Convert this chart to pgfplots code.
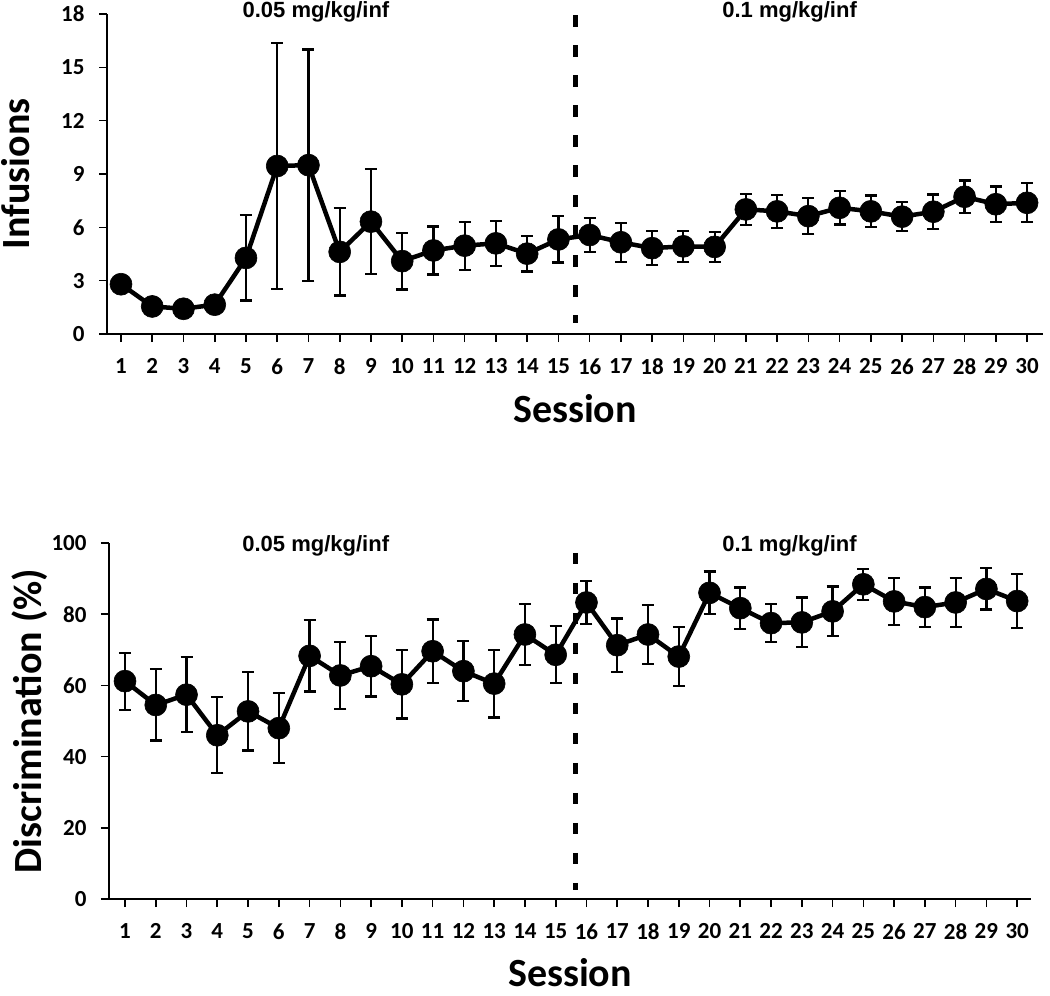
\documentclass[border=0pt]{standalone}
\usepackage{fontspec}
\setmainfont{Carlito}
\newfontfamily\arialfont{Liberation Sans}
\usepackage{pgfplots}
\pgfplotsset{compat=1.18}
\usepackage{pgfplotstable}

\pgfplotstableread{
x y e
1 2.8 0.4
2 1.55 0.25
3 1.42 0.2
4 1.65 0.25
5 4.28 2.4
6 9.45 6.9
7 9.5 6.5
8 4.62 2.45
9 6.32 2.95
10 4.1 1.6
11 4.7 1.35
12 4.97 1.35
13 5.1 1.27
14 4.52 1.0
15 5.32 1.3
16 5.57 0.97
17 5.16 1.1
18 4.83 0.97
19 4.93 0.87
20 4.9 0.85
21 7.01 0.86
22 6.9 0.94
23 6.63 1.0
24 7.1 0.94
25 6.9 0.89
26 6.6 0.82
27 6.88 0.97
28 7.72 0.92
29 7.3 1.0
30 7.38 1.1
}\infdata

\pgfplotstableread{
x y e
1 61.2 8
2 54.5 10
3 57.4 10.5
4 46 10.7
5 52.7 11
6 48 9.9
7 68.3 10
8 62.8 9.4
9 65.4 8.5
10 60.3 9.6
11 69.6 8.9
12 64 8.4
13 60.5 9.5
14 74.3 8.5
15 68.6 8
16 83.3 6
17 71.3 7.5
18 74.3 8.2
19 68.1 8.2
20 86 6
21 81.7 5.8
22 77.5 5.4
23 77.7 7
24 80.8 7
25 88.4 4.3
26 83.6 6.6
27 82 5.5
28 83.3 6.8
29 87.1 5.8
30 83.7 7.5
}\discdata

\pgfplotsset{
  common/.style={
    scale only axis,
    axis x line*=bottom,
    axis y line*=left,
    axis line style={line width=2bp, black},
    tick align=outside,
    major tick length=8bp,
    tick style={line width=1.6bp, black},
    xtick={1,...,30},
    ticklabel style={font=\fontsize{23bp}{27bp}\selectfont\bfseries},
    xticklabel style={yshift=-13bp},
    yticklabel style={xshift=-11bp},
    /pgf/number format/assume math mode=true,
    label style={font=\fontsize{40bp}{48bp}\selectfont\bfseries},
    clip=false,
  },
  dataplot/.style={
    black, line width=4.5bp, mark=*, mark size=11bp,
    mark options={fill=black, solid, line width=0.6bp},
    error bars/.cd, y dir=both, y explicit,
    error bar style={line width=2.2bp, black},
    error mark options={rotate=90, mark size=6bp, line width=2.2bp, black},
  },
}
\tikzset{doselabel/.style={font=\arialfont\bfseries\fontsize{22bp}{26bp}\selectfont, anchor=base}}

\begin{document}
\begin{tikzpicture}
\useasboundingbox (0bp,0bp) rectangle (1050bp,-996bp);

\begin{axis}[common,
  at={(107bp,-334bp)}, anchor=south west,
  width=936bp, height=320bp,
  xmin=0.552, xmax=30.51, ymin=0, ymax=18,
  ytick={0,3,...,18},
  xlabel={Session},
  xlabel style={at={(axis description cs:0.5,-0.275)}, anchor=base},
  ylabel={Infusions},
  ylabel style={at={(axis description cs:-0.0823,0.5)}, anchor=base, rotate=0},
]
\addplot[line width=5bp, black, dash pattern=on 11.5bp off 18.5bp] coordinates {(15.56,17.94) (15.56,0.62)};
\addplot[dataplot] table[x=x, y=y, y error=e] {\infdata};
\node[doselabel] at (axis cs:7.24,17.83) {0.05 mg/kg/inf};
\node[doselabel] at (axis cs:22.4,17.83) {0.1 mg/kg/inf};
\end{axis}

\begin{axis}[common,
  at={(109bp,-899bp)}, anchor=south west,
  width=922bp, height=356bp,
  xmin=0.48, xmax=30.45, ymin=0, ymax=100,
  ytick={0,20,...,100},
  xlabel={Session},
  xlabel style={at={(axis description cs:0.5,-0.247)}, anchor=base},
  ylabel={Discrimination (\%)},
  ylabel style={at={(axis description cs:-0.0727,0.5)}, anchor=base, rotate=0},
]
\addplot[line width=5bp, black, dash pattern=on 11.5bp off 18.5bp] coordinates {(15.65,97.2) (15.65,2.5)};
\addplot[dataplot] table[x=x, y=y, y error=e] {\discdata};
\node[doselabel] at (axis cs:7.2,97.5) {0.05 mg/kg/inf};
\node[doselabel] at (axis cs:22.6,97.5) {0.1 mg/kg/inf};
\end{axis}
\end{tikzpicture}
\end{document}
